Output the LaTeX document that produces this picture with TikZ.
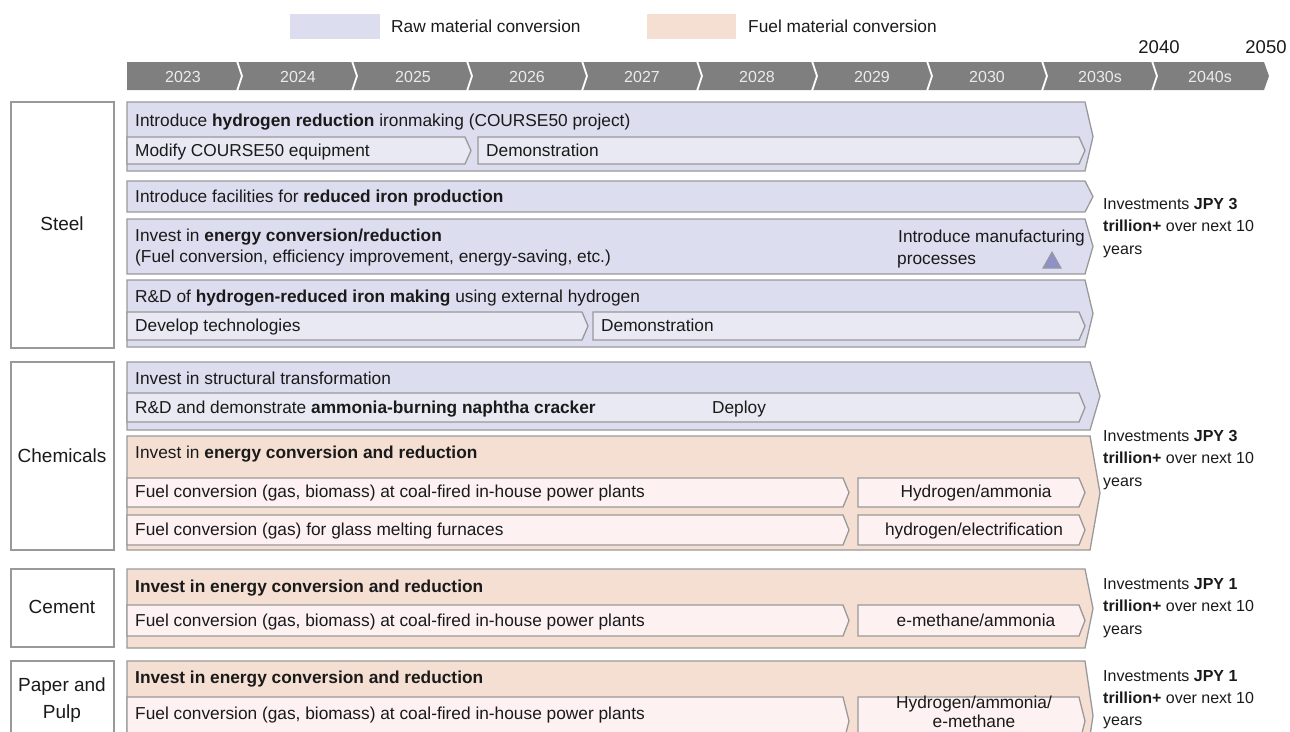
\documentclass[tikz,border=0pt]{standalone}
\usepackage{fontspec}
\setmainfont{Liberation Sans}
\definecolor{lav}{HTML}{DCDDEE}
\definecolor{lavin}{HTML}{E9E9F3}
\definecolor{peach}{HTML}{F5DFD3}
\definecolor{pinkin}{HTML}{FDF1F1}
\definecolor{edge}{HTML}{999999}
\definecolor{bar}{HTML}{7F7F7F}
\definecolor{ink}{HTML}{1A1A1A}
\definecolor{tri}{HTML}{8E90C6}
% chevron box: style, x1, y1, x2, y2, tip depth
\newcommand{\chevbox}[6]{%
  \path[#1] (#2,#3) -- (#4,#3) -- ({#4+#6},{(#3+#5)/2}) -- (#4,#5) -- (#2,#5) -- cycle;}
\begin{document}
\begin{tikzpicture}[x=1pt,y=-1pt,
  every node/.style={inner sep=0pt, text=ink, font=\fontsize{17.3}{22.5}\selectfont},
  even/.style={text height=13.5pt, text depth=2.5pt},
  lbl/.style={anchor=west, even},
  ctr/.style={anchor=center, even},
  outerlav/.style={fill=lav, draw=edge, line width=1.3pt, line join=miter},
  innerlav/.style={fill=lavin, draw=edge, line width=1.3pt},
  outerpch/.style={fill=peach, draw=edge, line width=1.3pt},
  innerpch/.style={fill=pinkin, draw=edge, line width=1.3pt},
  sector/.style={fill=white, draw=edge, line width=1.3pt},
  sectorlbl/.style={anchor=center, font=\fontsize{19}{27}\selectfont, text height=14.5pt, text depth=3pt},
  yearlbl/.style={anchor=center, text=white!92!black, font=\fontsize{16}{18}\selectfont, text height=12pt, text depth=0pt},
  sep/.style={draw=white, line width=1.8pt},
  invest/.style={anchor=west, font=\fontsize{16}{20}\selectfont, text height=12.5pt, text depth=2.5pt}]
\useasboundingbox (0,0) rectangle (1290,731);
\clip (0,0) rectangle (1290,731);

% legend
\path[fill=lav] (290,14) rectangle (380,39);
\node[lbl] (legraw) at (391,27) {Raw material conversion};
\path[fill=peach] (647,14) rectangle (736,39);
\node[lbl] (legfuel) at (748,27) {Fuel material conversion};

% timeline
\node[ctr, font=\fontsize{18.5}{20}\selectfont] (y2040) at (1159,48) {2040};
\node[ctr, font=\fontsize{18.5}{20}\selectfont] (y2050) at (1266,48) {2050};
\path[fill=bar] (127,62) -- (1264,62) -- (1269,76) -- (1264,90) -- (127,90) -- cycle;
\foreach \b in {240,355,470,585,700,815,930,1045,1155}
  \draw[sep] (\b-3,61) -- (\b+2,76) -- (\b-3,91);
\foreach \c/\t/\n in {183/2023/ya,298/2024/yb,413/2025/yc,527/2026/yd,642/2027/ye,
  757/2028/yf,872/2029/yg,987/2030/yh,1100/2030s/yi,1210/2040s/yj}
  \node[yearlbl] (\n) at (\c,76) {\t};

% ---------------- Steel ----------------
\path[sector] (11,102) rectangle (114,348);
\node[sectorlbl] (steel) at (62,225) {Steel};

\chevbox{outerlav}{127}{102}{1085}{171}{8}
\node[lbl] (s1t) at (135,121) {Introduce \textbf{hydrogen reduction} ironmaking (COURSE50 project)};
\chevbox{innerlav}{127}{137}{465}{164}{6}
\node[lbl] (s1a) at (135,150.5) {Modify COURSE50 equipment};
\chevbox{innerlav}{478}{137}{1079}{164}{6}
\node[lbl] (s1b) at (486,150.5) {Demonstration};

\chevbox{outerlav}{127}{181}{1085}{212}{8}
\node[lbl] (s2t) at (135,197) {Introduce facilities for \textbf{reduced iron production}};

\chevbox{outerlav}{127}{219}{1085}{274}{8}
\node[lbl] (s3t) at (135,236) {Invest in \textbf{energy conversion/reduction}};
\node[lbl] (s3b) at (135,257) {(Fuel conversion, efficiency improvement, energy-saving, etc.)};
\node[ctr, anchor=east] (s3c) at (1085,237) {Introduce manufacturing};
\node[lbl] (s3d) at (897,259) {processes};
\path[fill=tri, draw=edge, line width=1pt] (1043,268) -- (1052,252) -- (1061,268) -- cycle;

\chevbox{outerlav}{127}{280}{1085}{347}{8}
\node[lbl] (s4t) at (135,297) {R\&D of \textbf{hydrogen-reduced iron making} using external hydrogen};
\chevbox{innerlav}{127}{312}{582}{340}{6}
\node[lbl] (s4a) at (135,326) {Develop technologies};
\chevbox{innerlav}{593}{312}{1079}{340}{6}
\node[lbl] (s4b) at (601,326) {Demonstration};

\node[invest] (inv1a) at (1103,204) {Investments \textbf{JPY 3}};
\node[invest] (inv1b) at (1103,226.5) {\textbf{trillion+} over next 10};
\node[invest] (inv1c) at (1103,249) {years};

% ---------------- Chemicals ----------------
\path[sector] (11,362) rectangle (114,550);
\node[sectorlbl] (chem) at (62,457) {Chemicals};

\chevbox{outerlav}{127}{362}{1090}{430}{10}
\node[lbl] (c1t) at (135,379) {Invest in structural transformation};
\chevbox{innerlav}{127}{393}{1079}{422}{6}
\node[lbl] (c1a) at (135,408) {R\&D and demonstrate \textbf{ammonia-burning naphtha cracker}};
\node[ctr] (c1b) at (739,408) {Deploy};

\chevbox{outerpch}{127}{436}{1090}{550}{10}
\node[lbl] (c2t) at (135,453) {Invest in \textbf{energy conversion and reduction}};
\chevbox{innerpch}{127}{478}{843}{507}{6}
\node[lbl] (c2a) at (135,492) {Fuel conversion (gas, biomass) at coal-fired in-house power plants};
\chevbox{innerpch}{858}{478}{1079}{507}{6}
\node[ctr] (c2b) at (976,492) {Hydrogen/ammonia};
\chevbox{innerpch}{127}{515}{843}{545}{6}
\node[lbl] (c2c) at (135,530) {Fuel conversion (gas) for glass melting furnaces};
\chevbox{innerpch}{858}{515}{1079}{545}{6}
\node[ctr] (c2d) at (974,530) {hydrogen/electrification};

\node[invest] (inv2a) at (1103,436) {Investments \textbf{JPY 3}};
\node[invest] (inv2b) at (1103,458.5) {\textbf{trillion+} over next 10};
\node[invest] (inv2c) at (1103,481) {years};

% ---------------- Cement ----------------
\path[sector] (11,569) rectangle (114,647);
\node[sectorlbl] (cem) at (62,608) {Cement};

\chevbox{outerpch}{127}{569}{1085}{648}{8}
\node[lbl] (m1t) at (135,587) {\textbf{Invest in energy conversion and reduction}};
\chevbox{innerpch}{127}{605}{843}{636}{6}
\node[lbl] (m1a) at (135,621) {Fuel conversion (gas, biomass) at coal-fired in-house power plants};
\chevbox{innerpch}{858}{605}{1079}{636}{6}
\node[ctr] (m1b) at (976,621) {e-methane/ammonia};

\node[invest] (inv3a) at (1103,584) {Investments \textbf{JPY 1}};
\node[invest] (inv3b) at (1103,606.5) {\textbf{trillion+} over next 10};
\node[invest] (inv3c) at (1103,629) {years};

% ---------------- Paper and Pulp ----------------
\path[sector] (11,661) rectangle (114,760);
\node[sectorlbl] (pap1) at (62,686) {Paper and};
\node[sectorlbl] (pap2) at (62,713) {Pulp};

\chevbox{outerpch}{127}{661}{1085}{770}{8}
\node[lbl] (p1t) at (135,678) {\textbf{Invest in energy conversion and reduction}};
\chevbox{innerpch}{127}{697}{843}{745}{6}
\node[lbl] (p1a) at (135,714) {Fuel conversion (gas, biomass) at coal-fired in-house power plants};
\chevbox{innerpch}{858}{697}{1079}{745}{6}
\node[ctr] (p1b) at (974,703) {Hydrogen/ammonia/};
\node[ctr, text depth=0pt] (p1c) at (974,721) {e-methane};

\node[invest] (inv4a) at (1103,676) {Investments \textbf{JPY 1}};
\node[invest] (inv4b) at (1103,698.5) {\textbf{trillion+} over next 10};
\node[invest] (inv4c) at (1103,720) {years};
\end{tikzpicture}
\end{document}
